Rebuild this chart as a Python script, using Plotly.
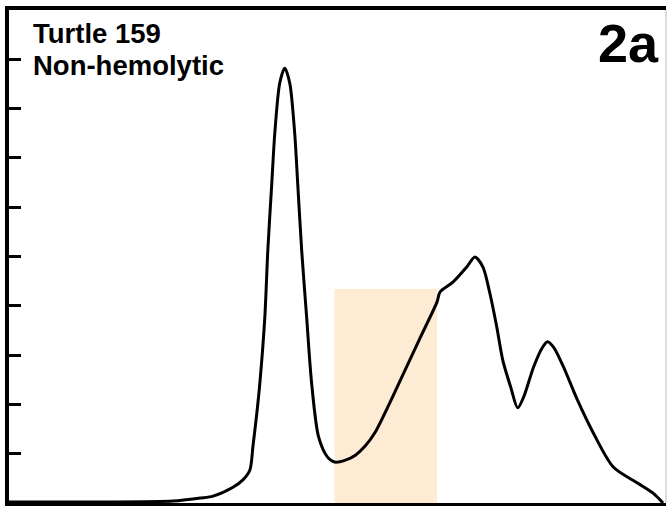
import plotly.graph_objects as go

# elution trace (arbitrary units)
volume = [0, 9.1, 16.5, 19.2, 20.5, 22.5, 23.5, 24.2, 24.5, 24.9, 25.2, 25.7, 26.0, 26.4,
          26.7, 27.2, 27.7, 28.2, 28.7, 29.0, 29.4, 29.9, 30.4, 31.1, 32.0, 32.7, 33.8,
          34.8, 35.8, 36.8, 38.3, 39.8, 41.3, 43.0, 43.3, 44.6, 46.0, 46.8, 47.6, 48.3,
          49.0, 49.6, 50.4, 51.1, 51.7, 52.7, 53.6, 54.1, 54.7, 55.7, 57.1, 58.7, 60.7,
          63.1, 64.7, 65.7]
absorbance = [0.02, 0.02, 0.04, 0.1, 0.14, 0.32, 0.47, 0.67, 1.14, 1.83, 2.43, 3.77, 5.13, 6.49,
              7.5, 8.52, 8.82, 8.52, 7.5, 6.49, 5.13, 3.77, 2.43, 1.34, 0.93, 0.83, 0.87,
              0.97, 1.16, 1.44, 2.05, 2.70, 3.35, 4.08, 4.28, 4.48, 4.79, 4.99, 4.79, 4.26,
              3.57, 2.9, 2.35, 1.93, 2.15, 2.76, 3.16, 3.27, 3.16, 2.76, 2.09, 1.42, 0.73,
              0.41, 0.2, 0.0]

# highlighted fraction window
window_x = [32.7, 43.0]
window_top = 4.34

y_ticks = [1, 2, 3, 4, 5, 6, 7, 8, 9]

fig = go.Figure()
fig.add_trace(go.Scatter(x=volume, y=absorbance, mode="lines",
                         line=dict(color="black", width=3, shape="spline", smoothing=0.8),
                         hoverinfo="skip"))

fig.add_shape(type="rect", xref="x", yref="y", x0=window_x[0], x1=window_x[1], y0=0, y1=window_top,
              fillcolor="#FDEBD3", line_width=0, layer="below")
# thin right border
fig.add_shape(type="line", xref="paper", yref="paper", x0=1, x1=1, y0=0, y1=1,
              line=dict(color="#BBBBBB", width=1))

font = "Arial, Liberation Sans, sans-serif"
fig.add_annotation(text="<b>Turtle 159</b>", xref="paper", yref="paper", x=0.034, y=0.988,
                   xanchor="left", yanchor="top", showarrow=False,
                   font=dict(family=font, size=27.5, color="black"))
fig.add_annotation(text="<b>Non-hemolytic</b>", xref="paper", yref="paper", x=0.034, y=0.923,
                   xanchor="left", yanchor="top", showarrow=False,
                   font=dict(family=font, size=27.5, color="black"))
fig.add_annotation(text="<b>2a</b>", xref="paper", yref="paper", x=0.993, y=0.998,
                   xanchor="right", yanchor="top", showarrow=False,
                   font=dict(family=font, size=54, color="black"))

fig.update_xaxes(range=[0, 66], showgrid=False, zeroline=False, showticklabels=False,
                 ticks="", showline=True, linecolor="black", linewidth=3.5, mirror=True)
fig.update_yaxes(range=[0, 10], showgrid=False, zeroline=False, showticklabels=False,
                 tickvals=y_ticks, ticks="inside", ticklen=12, tickwidth=3, tickcolor="black",
                 showline=True, linecolor="black", linewidth=3.5)

fig.update_layout(width=668, height=506, showlegend=False,
                  margin=dict(l=9, r=2, t=10, b=3),
                  paper_bgcolor="white", plot_bgcolor="white")

# drop the default page margin so the figure sits at the window origin
fig.write_html("out.html", config={"displayModeBar": False},
               post_script="document.body.style.margin='0';document.body.style.overflow='hidden';")
